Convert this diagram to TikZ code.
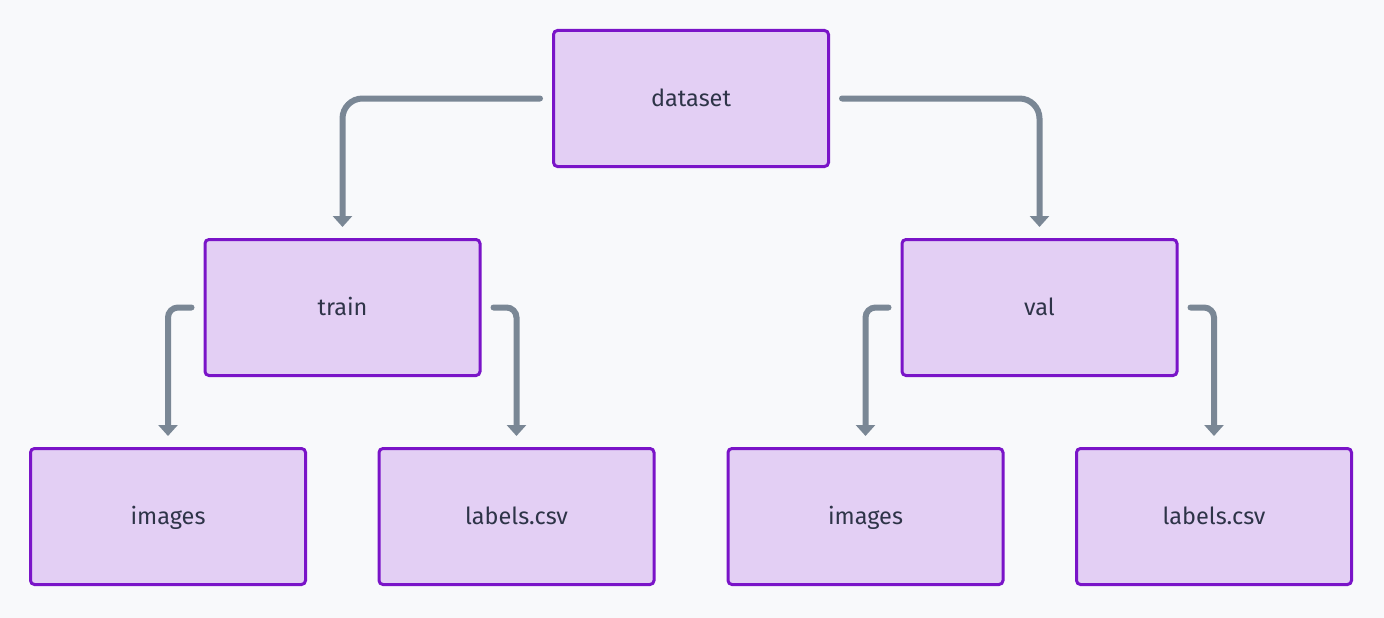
\documentclass[tikz,border=0pt]{standalone}
\usepackage{fontspec}
\setmainfont{Fira Sans}
\usepackage{xcolor}
\usetikzlibrary{arrows.meta}
\definecolor{bgcol}{HTML}{F8F9FB}
\definecolor{boxfill}{HTML}{E3CFF4}
\definecolor{boxline}{HTML}{7A14C8}
\definecolor{txtcol}{HTML}{2E3448}
\definecolor{conncol}{HTML}{7A8795}
\begin{document}
\begin{tikzpicture}[x=1pt,y=-1pt,
  folder/.style={draw=boxline, fill=boxfill, line width=3pt, rounded corners=4pt,
    minimum width=275pt, minimum height=136pt, inner sep=0pt,
    text height=17pt, text depth=1.5pt,
    text=txtcol, font=\fontsize{23.5}{28}\selectfont},
  conn/.style={draw=conncol, line width=6pt, line cap=round, rounded corners=20pt,
    -{Triangle[width=19pt,length=11pt]}, shorten <=12pt, shorten >=11pt},
  subconn/.style={conn, rounded corners=10pt}]
\def \ytop {98.5}
\def \ymid {307.5}
\def \ylow {516.5}
\fill[bgcol] (0,0) rectangle (1384,618);
\useasboundingbox (0,0) rectangle (1384,618);
\node[folder] (dataset) at (691,\ytop) {dataset};
\node[folder] (train) at (342.5,\ymid) {train};
\node[folder] (val) at (1039.5,\ymid) {val};
\node[folder] (trainimg) at (168,\ylow) {images};
\node[folder] (trainlbl) at (516.5,\ylow) {labels.csv};
\node[folder] (valimg) at (865.5,\ylow) {images};
\node[folder] (vallbl) at (1214,\ylow) {labels.csv};
\draw[conn] (dataset.west) -| (train.north);
\draw[conn] (dataset.east) -| (val.north);
\draw[subconn] (train.west) -| (trainimg.north);
\draw[subconn] (train.east) -| (trainlbl.north);
\draw[subconn] (val.west) -| (valimg.north);
\draw[subconn] (val.east) -| (vallbl.north);
\end{tikzpicture}
\end{document}
